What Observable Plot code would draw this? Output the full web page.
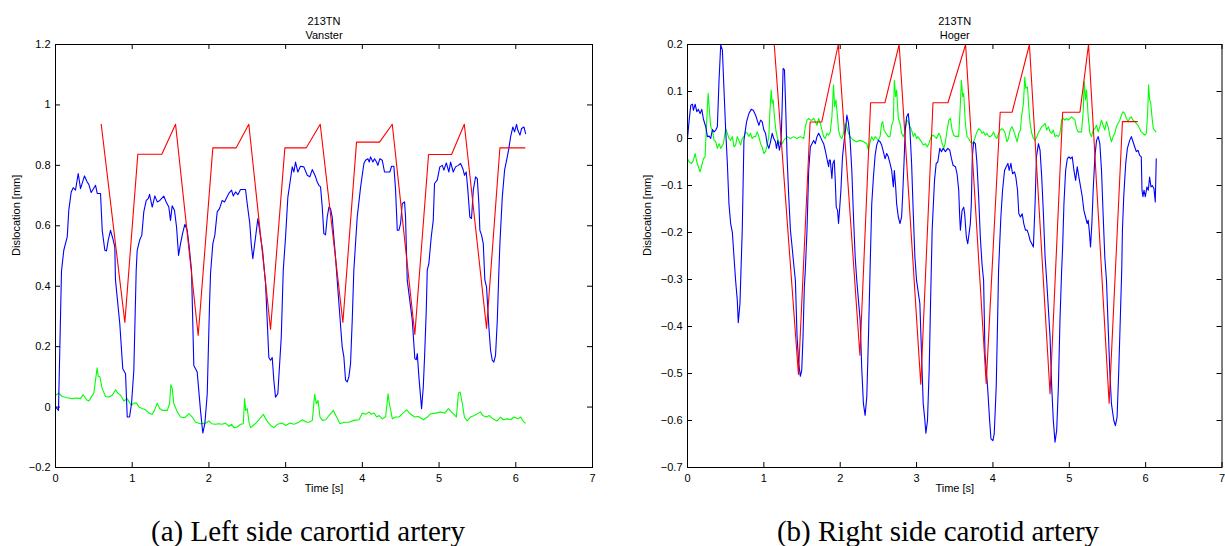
<!DOCTYPE html>
<html>
<head>
<meta charset="utf-8">
<script src="https://cdn.jsdelivr.net/npm/d3@7"></script>
<script src="https://cdn.jsdelivr.net/npm/@observablehq/plot@0.6"></script>
<style>
  html, body { margin: 0; padding: 0; background: #fff; }
  #wrap { position: relative; width: 1225px; height: 546px; overflow: hidden; background: #fff; }
  .panel { position: absolute; top: 0; }
  .cap { position: absolute; width: 600px; text-align: center; font-family: "Liberation Serif", "Times New Roman", serif; font-size: 29px; line-height: 29px; color: #000; white-space: nowrap; }
</style>
</head>
<body>
<div id="wrap">
  <div id="left" class="panel" style="left:0px"></div>
  <div id="right" class="panel" style="left:612px"></div>
  <div class="cap" style="left:8px; top:517px">(a) Left side carortid artery</div>
  <div class="cap" style="left:638px; top:517px">(b) Right side carotid artery</div>
</div>
<script>
// ---------- tick labels ----------
const xTicks = [0, 1, 2, 3, 4, 5, 6, 7];
const yTicksLeft = [-0.2, 0, 0.2, 0.4, 0.6, 0.8, 1, 1.2];
const yTicksRight = [-0.7, -0.6, -0.5, -0.4, -0.3, -0.2, -0.1, 0, 0.1, 0.2];

// ---------- titles ----------
const titleMain = "213TN";
const titleLeft = "Vanster";
const titleRight = "Hoger";
const xLabel = "Time [s]";
const yLabel = "Dislocation [mm]";

// ---------- left panel series [time s, dislocation mm] ----------
const redLeft = [[0.596,0.936],[0.904,0.28],[1.073,0.837],[1.386,0.837],[1.565,0.936],[1.86,0.237],[2.051,0.858],[2.356,0.858],[2.52,0.936],[2.803,0.257],[2.99,0.858],[3.269,0.858],[3.451,0.936],[3.746,0.28],[3.924,0.877],[4.224,0.877],[4.39,0.936],[4.684,0.24],[4.863,0.836],[5.163,0.836],[5.329,0.936],[5.619,0.26],[5.793,0.858],[6.119,0.858]];

const blueLeft = [[0.004,0.0],[0.039,-0.011],[0.078,0.45],[0.108,0.519],[0.153,0.563],[0.173,0.651],[0.205,0.712],[0.231,0.726],[0.261,0.718],[0.296,0.773],[0.326,0.723],[0.378,0.765],[0.413,0.745],[0.434,0.737],[0.465,0.71],[0.522,0.734],[0.544,0.707],[0.587,0.707],[0.609,0.585],[0.643,0.519],[0.665,0.517],[0.687,0.552],[0.717,0.585],[0.747,0.558],[0.773,0.53],[0.782,0.42],[0.838,0.276],[0.877,0.127],[0.913,0.11],[0.935,-0.033],[0.965,-0.033],[0.991,0.011],[1.021,0.121],[1.052,0.453],[1.065,0.519],[1.099,0.554],[1.125,0.569],[1.151,0.646],[1.183,0.684],[1.209,0.69],[1.226,0.704],[1.261,0.662],[1.295,0.699],[1.326,0.679],[1.36,0.684],[1.412,0.698],[1.443,0.679],[1.477,0.662],[1.499,0.618],[1.521,0.666],[1.551,0.651],[1.578,0.596],[1.604,0.502],[1.63,0.541],[1.656,0.574],[1.686,0.605],[1.717,0.585],[1.743,0.53],[1.773,0.453],[1.803,0.138],[1.847,0.116],[1.89,-0.011],[1.92,-0.086],[1.947,-0.055],[1.978,0.044],[2.008,0.342],[2.021,0.442],[2.051,0.541],[2.077,0.569],[2.108,0.646],[2.138,0.657],[2.173,0.684],[2.203,0.679],[2.259,0.707],[2.295,0.718],[2.317,0.699],[2.347,0.712],[2.377,0.703],[2.412,0.72],[2.477,0.72],[2.499,0.673],[2.533,0.607],[2.551,0.541],[2.572,0.491],[2.608,0.563],[2.638,0.624],[2.673,0.563],[2.699,0.519],[2.738,0.409],[2.781,0.164],[2.803,0.155],[2.825,0.164],[2.846,0.089],[2.868,0.033],[2.898,0.044],[2.943,0.232],[2.969,0.453],[2.999,0.563],[3.029,0.695],[3.055,0.74],[3.086,0.795],[3.107,0.778],[3.129,0.811],[3.159,0.778],[3.194,0.797],[3.237,0.795],[3.282,0.767],[3.315,0.762],[3.347,0.786],[3.39,0.762],[3.412,0.745],[3.433,0.734],[3.455,0.729],[3.477,0.662],[3.498,0.574],[3.52,0.57],[3.542,0.629],[3.564,0.662],[3.585,0.657],[3.607,0.629],[3.628,0.563],[3.65,0.497],[3.672,0.42],[3.737,0.199],[3.759,0.166],[3.781,0.089],[3.803,0.083],[3.824,0.1],[3.846,0.144],[3.868,0.287],[3.889,0.453],[3.933,0.629],[3.977,0.728],[4.02,0.806],[4.042,0.817],[4.072,0.822],[4.09,0.811],[4.107,0.828],[4.137,0.811],[4.159,0.822],[4.185,0.811],[4.202,0.8],[4.228,0.822],[4.259,0.817],[4.289,0.778],[4.324,0.778],[4.358,0.778],[4.381,0.797],[4.411,0.797],[4.433,0.718],[4.455,0.585],[4.476,0.585],[4.498,0.607],[4.52,0.674],[4.55,0.679],[4.563,0.629],[4.585,0.42],[4.651,0.287],[4.684,0.16],[4.703,0.157],[4.716,0.177],[4.737,0.1],[4.759,0.033],[4.772,-0.005],[4.794,0.066],[4.811,0.166],[4.833,0.32],[4.846,0.453],[4.867,0.475],[4.898,0.563],[4.924,0.618],[4.941,0.74],[4.976,0.751],[5.01,0.795],[5.042,0.8],[5.063,0.784],[5.094,0.808],[5.128,0.778],[5.15,0.811],[5.185,0.778],[5.215,0.795],[5.25,0.8],[5.28,0.806],[5.31,0.789],[5.332,0.767],[5.354,0.778],[5.375,0.718],[5.401,0.629],[5.423,0.624],[5.446,0.718],[5.476,0.762],[5.498,0.756],[5.519,0.673],[5.532,0.585],[5.554,0.569],[5.576,0.541],[5.597,0.42],[5.619,0.397],[5.649,0.265],[5.671,0.188],[5.693,0.155],[5.714,0.149],[5.736,0.171],[5.759,0.287],[5.78,0.453],[5.793,0.541],[5.824,0.695],[5.854,0.784],[5.889,0.828],[5.91,0.856],[5.932,0.894],[5.962,0.927],[5.984,0.911],[6.01,0.936],[6.027,0.916],[6.054,0.9],[6.076,0.922],[6.106,0.927],[6.128,0.905]];

const greenLeft = [[0.004,0.039],[0.043,0.046],[0.087,0.035],[0.152,0.031],[0.217,0.028],[0.283,0.03],[0.326,0.028],[0.361,0.041],[0.404,0.024],[0.435,0.02],[0.465,0.033],[0.5,0.046],[0.522,0.09],[0.543,0.13],[0.557,0.102],[0.578,0.1],[0.609,0.061],[0.652,0.035],[0.696,0.033],[0.739,0.039],[0.783,0.057],[0.813,0.046],[0.848,0.039],[0.891,0.02],[0.935,0.028],[0.987,0.006],[1.022,0.013],[1.057,0.013],[1.087,0.0],[1.13,-0.005],[1.174,-0.009],[1.217,-0.02],[1.261,-0.024],[1.291,-0.011],[1.326,0.013],[1.357,-0.005],[1.4,-0.011],[1.457,-0.011],[1.487,0.011],[1.504,0.074],[1.522,0.061],[1.543,0.011],[1.587,-0.016],[1.63,-0.033],[1.674,-0.035],[1.704,-0.031],[1.739,-0.022],[1.783,-0.033],[1.826,-0.05],[1.891,-0.055],[1.957,-0.053],[2.0,-0.046],[2.035,-0.055],[2.087,-0.057],[2.13,-0.055],[2.174,-0.057],[2.217,-0.053],[2.261,-0.064],[2.296,-0.057],[2.326,-0.068],[2.37,-0.066],[2.413,-0.057],[2.448,-0.055],[2.465,0.028],[2.478,-0.011],[2.5,-0.005],[2.522,-0.05],[2.543,-0.068],[2.596,-0.057],[2.652,-0.042],[2.709,-0.024],[2.752,-0.044],[2.804,-0.061],[2.848,-0.068],[2.891,-0.057],[2.957,-0.053],[3.0,-0.061],[3.057,-0.053],[3.109,-0.057],[3.174,-0.05],[3.217,-0.042],[3.274,-0.05],[3.304,-0.05],[3.348,-0.044],[3.378,0.042],[3.4,0.011],[3.422,0.022],[3.448,-0.033],[3.478,-0.044],[3.522,-0.042],[3.565,-0.028],[3.622,-0.011],[3.665,-0.033],[3.709,-0.055],[3.761,-0.05],[3.826,-0.05],[3.891,-0.044],[3.957,-0.042],[4.0,-0.02],[4.043,-0.024],[4.087,-0.016],[4.117,-0.024],[4.152,-0.02],[4.187,-0.033],[4.217,-0.028],[4.261,-0.039],[4.304,-0.031],[4.335,0.044],[4.352,0.011],[4.37,-0.011],[4.391,-0.039],[4.435,-0.033],[4.478,-0.033],[4.522,-0.022],[4.578,-0.009],[4.63,-0.024],[4.683,-0.033],[4.73,-0.031],[4.796,-0.042],[4.848,-0.033],[4.891,-0.022],[4.957,-0.02],[5.022,-0.016],[5.074,-0.02],[5.122,-0.005],[5.161,-0.016],[5.196,-0.024],[5.226,-0.033],[5.252,0.046],[5.274,0.05],[5.304,0.011],[5.33,-0.033],[5.365,-0.046],[5.409,-0.033],[5.461,-0.028],[5.513,-0.02],[5.539,-0.016],[5.57,-0.028],[5.613,-0.033],[5.657,-0.028],[5.7,-0.039],[5.757,-0.046],[5.8,-0.033],[5.839,-0.042],[5.891,-0.039],[5.935,-0.042],[5.978,-0.033],[6.03,-0.039],[6.065,-0.033],[6.087,-0.044],[6.122,-0.053]];

// ---------- right panel series [time s, dislocation mm] ----------
const redRight = [[1.136,0.2],[1.453,-0.502],[1.606,0.035],[1.758,0.035],[1.975,0.2],[2.258,-0.461],[2.398,0.076],[2.585,0.076],[2.772,0.2],[3.055,-0.523],[3.215,0.076],[3.411,0.076],[3.642,0.2],[3.912,-0.521],[4.095,0.056],[4.252,0.056],[4.478,0.2],[4.748,-0.543],[4.913,0.056],[5.14,0.056],[5.252,0.2],[5.522,-0.563],[5.696,0.036],[5.892,0.036]];

const blueRight = [[0,0],[0.022,0.039],[0.043,0.071],[0.065,0.073],[0.078,0.06],[0.1,0.073],[0.122,0.057],[0.143,0.062],[0.165,0.053],[0.187,0.062],[0.209,0.041],[0.239,0.025],[0.261,0.004],[0.283,0.005],[0.304,0.0],[0.326,0.019],[0.348,0.014],[0.37,0.018],[0.391,0.025],[0.413,0.124],[0.435,0.199],[0.457,0.188],[0.478,0.103],[0.5,0.018],[0.522,-0.053],[0.543,-0.139],[0.565,-0.181],[0.587,-0.199],[0.609,-0.252],[0.63,-0.302],[0.652,-0.344],[0.665,-0.392],[0.687,-0.351],[0.717,-0.195],[0.739,-0.004],[0.774,0.036],[0.804,0.053],[0.835,0.062],[0.861,0.06],[0.891,0.05],[0.913,0.039],[0.935,0.028],[0.957,0.039],[0.978,0.036],[1.0,0.018],[1.022,0.011],[1.043,-0.011],[1.065,-0.021],[1.087,-0.007],[1.109,0.011],[1.13,0.0],[1.152,-0.007],[1.165,-0.021],[1.183,-0.004],[1.204,-0.025],[1.226,-0.004],[1.239,0.064],[1.252,0.149],[1.27,0.146],[1.287,0.06],[1.304,-0.039],[1.326,-0.124],[1.348,-0.195],[1.37,-0.231],[1.391,-0.267],[1.413,-0.302],[1.435,-0.422],[1.457,-0.479],[1.478,-0.506],[1.496,-0.493],[1.513,-0.422],[1.53,-0.316],[1.543,-0.28],[1.565,-0.195],[1.587,-0.068],[1.609,-0.018],[1.63,-0.011],[1.652,-0.004],[1.674,-0.011],[1.696,0.004],[1.717,0.011],[1.739,0.004],[1.761,-0.004],[1.783,-0.011],[1.804,-0.025],[1.826,-0.043],[1.848,-0.06],[1.857,-0.046],[1.87,-0.046],[1.891,-0.085],[1.904,-0.053],[1.922,-0.046],[1.935,-0.089],[1.948,-0.146],[1.965,-0.153],[1.978,-0.181],[1.991,-0.153],[2.009,-0.11],[2.03,-0.039],[2.052,-0.004],[2.07,0.018],[2.087,0.05],[2.109,0.032],[2.13,-0.004],[2.152,-0.068],[2.174,-0.167],[2.196,-0.252],[2.217,-0.302],[2.261,-0.387],[2.283,-0.493],[2.304,-0.564],[2.326,-0.589],[2.348,-0.55],[2.37,-0.422],[2.391,-0.28],[2.413,-0.139],[2.435,-0.082],[2.457,-0.036],[2.478,-0.014],[2.5,-0.004],[2.522,-0.007],[2.543,-0.014],[2.565,-0.028],[2.587,-0.043],[2.609,-0.032],[2.63,-0.039],[2.652,-0.053],[2.674,-0.068],[2.696,-0.103],[2.709,-0.068],[2.726,-0.103],[2.739,-0.139],[2.761,-0.167],[2.783,-0.181],[2.804,-0.167],[2.817,-0.124],[2.835,-0.053],[2.852,0.018],[2.87,0.046],[2.891,0.053],[2.913,0.018],[2.935,-0.053],[2.957,-0.16],[2.978,-0.252],[3.0,-0.302],[3.043,-0.351],[3.065,-0.458],[3.087,-0.564],[3.109,-0.6],[3.122,-0.627],[3.143,-0.6],[3.165,-0.493],[3.183,-0.351],[3.204,-0.195],[3.235,-0.089],[3.257,-0.053],[3.278,-0.05],[3.304,-0.021],[3.326,-0.028],[3.348,-0.021],[3.378,-0.028],[3.409,-0.021],[3.435,-0.025],[3.457,-0.043],[3.478,-0.057],[3.509,-0.06],[3.53,-0.075],[3.552,-0.11],[3.565,-0.167],[3.574,-0.195],[3.596,-0.153],[3.617,-0.146],[3.63,-0.16],[3.652,-0.21],[3.67,-0.224],[3.687,-0.203],[3.704,-0.181],[3.717,-0.139],[3.73,-0.039],[3.748,-0.007],[3.77,-0.011],[3.791,-0.053],[3.813,-0.124],[3.835,-0.21],[3.857,-0.267],[3.878,-0.302],[3.896,-0.458],[3.93,-0.529],[3.957,-0.6],[3.974,-0.639],[4.0,-0.643],[4.017,-0.628],[4.043,-0.529],[4.061,-0.387],[4.074,-0.28],[4.087,-0.231],[4.104,-0.167],[4.126,-0.11],[4.152,-0.068],[4.174,-0.06],[4.196,-0.053],[4.213,-0.068],[4.235,-0.053],[4.257,-0.075],[4.283,-0.071],[4.3,-0.082],[4.322,-0.11],[4.339,-0.16],[4.361,-0.167],[4.383,-0.16],[4.404,-0.181],[4.426,-0.195],[4.448,-0.195],[4.465,-0.203],[4.487,-0.217],[4.509,-0.224],[4.53,-0.231],[4.552,-0.139],[4.57,-0.039],[4.596,-0.011],[4.617,-0.025],[4.639,-0.082],[4.661,-0.16],[4.683,-0.252],[4.704,-0.302],[4.748,-0.422],[4.77,-0.529],[4.791,-0.6],[4.813,-0.646],[4.835,-0.621],[4.857,-0.529],[4.878,-0.387],[4.9,-0.28],[4.913,-0.231],[4.93,-0.139],[4.952,-0.068],[4.974,-0.043],[4.996,-0.039],[5.017,-0.043],[5.039,-0.039],[5.061,-0.068],[5.083,-0.089],[5.104,-0.06],[5.126,-0.082],[5.148,-0.103],[5.17,-0.124],[5.191,-0.153],[5.213,-0.167],[5.235,-0.181],[5.248,-0.174],[5.261,-0.195],[5.278,-0.231],[5.296,-0.181],[5.313,-0.11],[5.335,-0.039],[5.357,-0.004],[5.378,0.004],[5.4,-0.011],[5.422,-0.068],[5.443,-0.16],[5.465,-0.252],[5.487,-0.302],[5.53,-0.493],[5.552,-0.564],[5.583,-0.6],[5.604,-0.611],[5.626,-0.593],[5.648,-0.493],[5.674,-0.351],[5.687,-0.28],[5.696,-0.195],[5.713,-0.124],[5.739,-0.053],[5.761,-0.021],[5.791,-0.004],[5.813,0.004],[5.835,-0.007],[5.857,-0.018],[5.878,-0.028],[5.9,-0.025],[5.922,-0.036],[5.943,-0.039],[5.952,-0.11],[5.965,-0.124],[5.978,-0.11],[5.996,-0.124],[6.017,-0.103],[6.035,-0.11],[6.052,-0.082],[6.07,-0.103],[6.087,-0.1],[6.109,-0.107],[6.126,-0.135],[6.139,-0.043]];

const greenRight = [[0,-0.043],[0.022,-0.05],[0.052,-0.053],[0.078,-0.046],[0.1,-0.032],[0.122,-0.05],[0.143,-0.06],[0.165,-0.071],[0.187,-0.057],[0.209,-0.043],[0.23,-0.039],[0.252,0.039],[0.27,0.096],[0.287,0.06],[0.304,0.025],[0.326,0.018],[0.348,-0.004],[0.37,-0.007],[0.391,-0.021],[0.413,-0.011],[0.435,-0.021],[0.47,-0.011],[0.5,0.021],[0.522,0.011],[0.543,0.0],[0.565,-0.004],[0.587,0.004],[0.609,-0.018],[0.63,-0.014],[0.652,0.004],[0.674,-0.004],[0.696,-0.014],[0.717,0.0],[0.739,0.004],[0.761,0.014],[0.783,0.011],[0.804,0.004],[0.826,0.011],[0.848,0.0],[0.87,0.004],[0.891,0.004],[0.913,0.014],[0.935,0.004],[0.957,-0.011],[0.978,-0.018],[1.0,-0.032],[1.022,-0.028],[1.043,-0.014],[1.065,0.004],[1.078,0.053],[1.096,0.103],[1.109,0.075],[1.122,0.082],[1.139,0.046],[1.157,0.018],[1.174,0.004],[1.196,-0.011],[1.217,-0.007],[1.239,-0.011],[1.261,-0.004],[1.283,0.0],[1.304,0.004],[1.348,0.0],[1.391,0.004],[1.435,0.0],[1.478,0.004],[1.522,0.0],[1.543,0.025],[1.565,0.039],[1.587,0.043],[1.609,0.039],[1.63,0.039],[1.652,0.043],[1.674,0.036],[1.696,0.028],[1.717,0.043],[1.739,0.032],[1.761,0.018],[1.783,0.004],[1.804,0.0],[1.826,0.011],[1.848,0.007],[1.87,0.014],[1.891,0.046],[1.913,0.114],[1.926,0.068],[1.943,0.082],[1.961,0.053],[1.978,0.018],[2.0,0.004],[2.022,0.0],[2.043,0.011],[2.065,0.032],[2.087,0.025],[2.109,0.011],[2.13,0.004],[2.152,0.0],[2.174,-0.004],[2.217,-0.007],[2.261,-0.004],[2.304,-0.007],[2.348,-0.011],[2.37,-0.025],[2.391,-0.007],[2.413,0.004],[2.435,-0.004],[2.457,0.004],[2.478,0.0],[2.5,-0.004],[2.522,0.004],[2.543,0.032],[2.557,0.036],[2.574,0.018],[2.6,0.011],[2.63,0.004],[2.652,0.004],[2.674,0.028],[2.696,0.039],[2.709,0.124],[2.726,0.089],[2.739,0.103],[2.761,0.043],[2.783,0.032],[2.804,0.011],[2.826,0.004],[2.848,0.014],[2.87,0.039],[2.891,0.036],[2.913,0.025],[2.935,0.018],[2.957,0.004],[2.978,0.011],[3.0,0.0],[3.017,0.004],[3.052,-0.004],[3.087,-0.014],[3.117,-0.011],[3.139,-0.018],[3.161,-0.011],[3.191,0.004],[3.217,0.007],[3.239,0.004],[3.261,0.0],[3.291,0.011],[3.313,0.004],[3.335,-0.011],[3.357,-0.021],[3.378,-0.007],[3.4,0.018],[3.422,0.039],[3.443,0.043],[3.465,0.018],[3.487,0.007],[3.509,0.004],[3.53,0.005],[3.552,0.004],[3.574,0.075],[3.587,0.124],[3.604,0.089],[3.617,0.096],[3.639,0.032],[3.661,0.004],[3.683,0.0],[3.704,-0.007],[3.726,-0.011],[3.748,-0.007],[3.77,0.004],[3.791,0.014],[3.813,0.021],[3.835,0.018],[3.857,0.011],[3.878,0.014],[3.9,0.007],[3.922,0.011],[3.943,0.005],[3.965,0.004],[3.987,0.007],[4.009,0.014],[4.03,0.004],[4.052,0.0],[4.074,0.011],[4.096,0.018],[4.117,0.021],[4.139,0.018],[4.161,0.011],[4.183,-0.007],[4.204,0.0],[4.226,0.018],[4.248,0.025],[4.27,0.018],[4.296,0.004],[4.317,-0.007],[4.339,0.011],[4.361,0.018],[4.374,0.046],[4.4,0.075],[4.417,0.131],[4.43,0.107],[4.452,0.11],[4.47,0.064],[4.487,0.032],[4.509,0.011],[4.53,0.0],[4.552,-0.004],[4.574,0.004],[4.6,0.014],[4.617,0.018],[4.639,0.025],[4.661,0.028],[4.683,0.032],[4.704,0.018],[4.726,0.025],[4.748,0.014],[4.77,0.011],[4.791,0.018],[4.813,0.004],[4.835,0.007],[4.857,0.004],[4.878,0.011],[4.9,0.039],[4.922,0.043],[4.943,0.039],[4.965,0.043],[4.987,0.039],[5.009,0.043],[5.03,0.046],[5.052,0.043],[5.074,0.039],[5.096,0.021],[5.117,0.014],[5.139,0.014],[5.161,0.014],[5.183,0.06],[5.196,0.121],[5.213,0.082],[5.226,0.103],[5.248,0.046],[5.27,0.011],[5.291,0.004],[5.313,0.018],[5.335,0.021],[5.357,0.028],[5.378,0.014],[5.4,0.025],[5.422,0.039],[5.443,0.028],[5.465,0.018],[5.487,0.036],[5.509,0.025],[5.53,0.007],[5.552,-0.007],[5.574,0.004],[5.596,0.011],[5.617,0.025],[5.639,0.032],[5.661,0.039],[5.683,0.05],[5.704,0.057],[5.726,0.053],[5.748,0.043],[5.77,0.036],[5.791,0.043],[5.813,0.046],[5.835,0.039],[5.857,0.036],[5.878,0.032],[5.9,0.028],[5.922,0.021],[5.943,0.014],[5.965,0.011],[5.987,0.007],[6.009,0.011],[6.026,0.053],[6.039,0.114],[6.052,0.082],[6.065,0.078],[6.083,0.046],[6.1,0.021],[6.117,0.018],[6.135,0.014]];

// ---------- chart builder ----------
const fmt = d3.format("~g");
const FONT = "'Liberation Sans', Arial, Helvetica, sans-serif";

function panel({width, marginLeft, marginRight, yDomain, yTicks, red, blue, green, subtitle, ylabelDx}) {
  const height = 510, marginTop = 44, marginBottom = 43;
  const innerW = width - marginLeft - marginRight;
  const innerH = height - marginTop - marginBottom;
  const T = 5;
  const lw = 1.1;
  return Plot.plot({
    width, height, marginTop, marginBottom, marginLeft, marginRight,
    x: {domain: [0, 7]},
    y: {domain: yDomain},
    style: {fontFamily: FONT, fontSize: "11px", background: "white", color: "black", overflow: "visible"},
    marks: [
      Plot.axisX({ticks: xTicks, anchor: "bottom", tickSize: 0, tickPadding: 7, tickFormat: fmt, label: null, fontSize: 11}),
      Plot.axisY({ticks: yTicks, anchor: "left", tickSize: 0, tickPadding: 5, tickFormat: fmt, label: null, fontSize: 11}),
      Plot.tickX(xTicks, {x: d => d, insetTop: innerH - T, stroke: "black"}),
      Plot.tickX(xTicks, {x: d => d, insetBottom: innerH - T, stroke: "black"}),
      Plot.tickY(yTicks, {y: d => d, insetRight: innerW - T, stroke: "black"}),
      Plot.tickY(yTicks, {y: d => d, insetLeft: innerW - T, stroke: "black"}),
      Plot.line(green, {x: d => d[0], y: d => d[1], stroke: "#00ff00", strokeWidth: lw, clip: true}),
      Plot.line(blue, {x: d => d[0], y: d => d[1], stroke: "#0000ff", strokeWidth: lw, clip: true}),
      Plot.line(red, {x: d => d[0], y: d => d[1], stroke: "#ff0000", strokeWidth: lw, clip: true}),
      Plot.frame({stroke: "black", strokeWidth: 1}),
      Plot.text([xLabel], {text: d => d, frameAnchor: "bottom", dy: 24, fontSize: 11, fill: "black"}),
      Plot.text([yLabel], {text: d => d, frameAnchor: "left", dx: ylabelDx, rotate: -90, fontSize: 11, fill: "black"}),
      Plot.text([titleMain], {text: d => d, frameAnchor: "top", dy: -27, fontSize: 11, fill: "black"}),
      Plot.text([subtitle], {text: d => d, frameAnchor: "top", dy: -13, fontSize: 11, fill: "black"})
    ]
  });
}

document.getElementById("left").appendChild(panel({
  width: 612, marginLeft: 55, marginRight: 20,
  yDomain: [-0.2, 1.2], yTicks: yTicksLeft,
  red: redLeft, blue: blueLeft, green: greenLeft,
  subtitle: titleLeft, ylabelDx: -39
}));
document.getElementById("right").appendChild(panel({
  width: 613, marginLeft: 75, marginRight: 3.5,
  yDomain: [-0.7, 0.2], yTicks: yTicksRight,
  red: redRight, blue: blueRight, green: greenRight,
  subtitle: titleRight, ylabelDx: -40
}));
</script>
</body>
</html>
